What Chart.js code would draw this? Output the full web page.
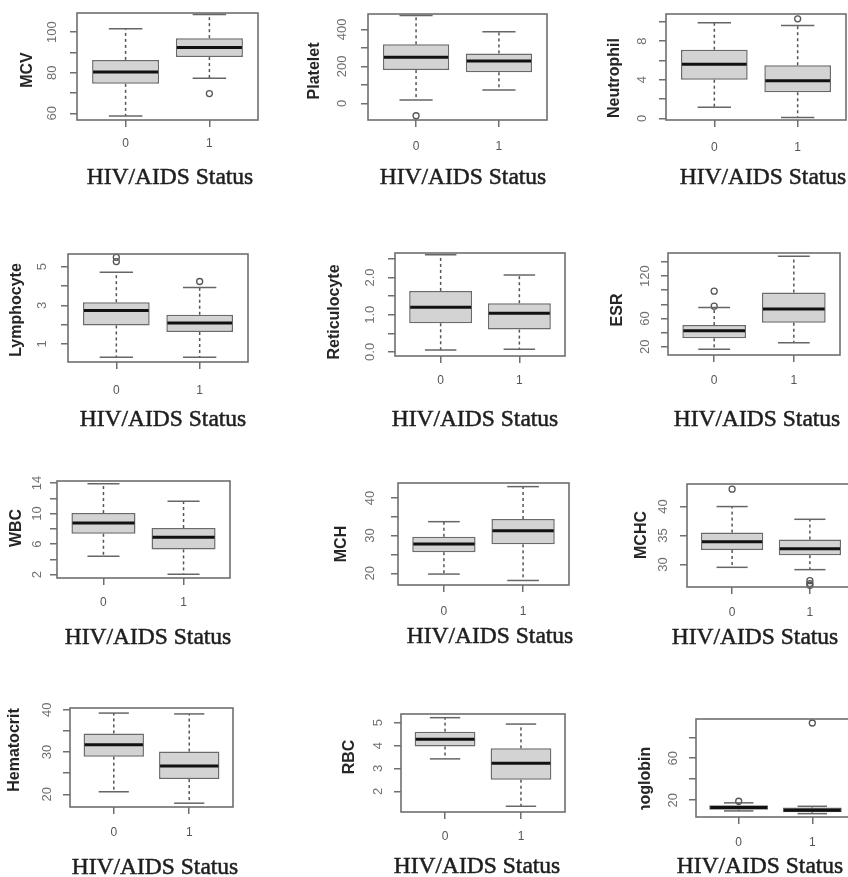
<!DOCTYPE html>
<html>
<head>
<meta charset="utf-8">
<script src="https://cdn.jsdelivr.net/npm/chart.js@4.4.1/dist/chart.umd.min.js"></script>
<style>
  html, body { margin: 0; padding: 0; background: #fff; }
  #page { position: relative; width: 848px; height: 877px; overflow: hidden; background: #fff; }
  #page canvas { position: absolute; }
</style>
</head>
<body>
<div id="page"></div>
<script>
// ---- data: haematology parameters by HIV/AIDS status (0 = negative, 1 = positive) ----
const groups = ['0', '1'];
const variables = ['MCV', 'Platelet', 'Neutrophil', 'Lymphocyte', 'Reticulocyte', 'ESR',
                   'WBC', 'MCH', 'MCHC', 'Hematocrit', 'RBC', 'Hemoglobin'];

// box-plot statistics, one [group 0, group 1] pair per variable
const whiskerLow  = [[58.7, 77.3], [18, 72], [1.15, 0.1], [0.31, 0.31], [0.05, 0.07], [16.2, 25.6],
                     [4.4, 2.04], [19.8, 18.1], [29.5, 29.1], [20.6, 17.9], [3.42, 1.35], [9.8, 7.2]];
const quartile1   = [[74.5, 87.7], [180, 168], [4.0, 2.7], [1.96, 1.62], [0.77, 0.60], [31.8, 53.9],
                     [7.35, 5.3], [25.6, 27.7], [32.5, 31.6], [28.9, 23.6], [3.96, 2.51], [11, 8.5]];
const medians     = [[80.4, 92.4], [249, 229], [5.6, 3.9], [2.73, 2.08], [1.20, 1.04], [42.6, 73.2],
                     [8.75, 6.9], [27.8, 31.3], [33.9, 32.7], [31.7, 26.7], [4.28, 3.23], [13, 10.4]];
const quartile3   = [[86.3, 97.0], [319, 270], [7.1, 5.5], [3.16, 2.51], [1.64, 1.31], [50.6, 96.7],
                     [10.06, 8.1], [29.7, 34.4], [35.5, 34.3], [34.4, 30.1], [4.61, 3.88], [15.2, 13]];
const whiskerHigh = [[101.6, 108.6], [475, 387], [9.9, 9.6], [4.71, 3.92], [2.61, 2.07], [75.5, 148],
                     [13.9, 11.6], [33.7, 43.0], [40, 37.8], [39.2, 39.0], [5.22, 4.94], [17.5, 14.2]];
const outliers    = [[[], [69.7]], [[-67], []], [[], [10.3]], [[5.48, 5.26], [4.23]], [[], []],
                     [[98.6, 77.4], []], [[], []], [[], []], [[43.0], [27.2, 26.7, 26.4]],
                     [[], []], [[], []], [[19], [93.6]]];

// y axis limits and ticks
const yMin = [56.7, -90, -0.17, 0.07, -0.11, 8.2, 1.56, 16.9, 26.1, 17.0, 1.10, 4];
const yMax = [109.4, 483, 10.8, 5.65, 2.66, 152.7, 14.26, 43.96, 43.9, 40.4, 5.38, 97.4];
const yTicks = [[60, 70, 80, 90, 100], [0, 100, 200, 300, 400], [0, 2, 4, 6, 8, 10], [1, 2, 3, 4, 5],
                [0, 0.5, 1, 1.5, 2, 2.5], [20, 40, 60, 80, 100, 120, 140], [2, 4, 6, 8, 10, 12, 14],
                [20, 25, 30, 35, 40], [30, 35, 40], [20, 25, 30, 35, 40], [2, 3, 4, 5], [20, 40, 60, 80]];
const yTickLabels = [['60', '', '80', '', '100'], ['0', '', '200', '', '400'], ['0', '', '4', '', '8', ''],
                     ['1', '', '3', '', '5'], ['0.0', '', '1.0', '', '2.0', ''],
                     ['20', '', '60', '', '', '120', ''], ['2', '', '6', '', '10', '', '14'],
                     ['20', '', '30', '', '40'], ['30', '35', '40'], ['20', '', '30', '', '40'],
                     ['2', '3', '4', '5'], ['20', '', '60', '']];
const xTitle = 'HIV/AIDS Status';

// ---- page layout (pixels) ----
const cellX = [0, 290, 580];
const cellY = [0, 230, 460, 690];
const cellW = 290;
const cellH = [230, 230, 230, 187];
// plot frame [left, right, top, bottom]
const frames = [[77, 258, 13, 120], [368, 547, 14, 120], [666, 846, 14, 120],
                [68, 248, 254, 362], [395, 565, 253, 356], [668, 840, 253, 355],
                [57, 230, 481, 578], [398, 569, 483, 585], [687, 855, 484, 587],
                [70, 233, 708, 807], [401, 565, 714, 812], [696, 855, 719, 817]];
const yTitleAt = [[28, 70], [315, 71], [615, 78], [17, 310], [335, 312], [618, 310],
                  [17, 528], [342, 544], [642, 535], [15, 750], [350, 757], [646, 793]];
const yTitleClipBottom = [null, null, null, null, null, null, null, null, null, null, null, 810];
const xTitleAt = [[170, 178], [463, 178], [763, 178], [163, 420], [475, 420], [757, 420],
                  [148, 638], [490, 637], [755, 638], [155, 868], [477, 867], [760, 867]];
const yTickLabelX = [52, 342, 642, 42, 370, 645, 37, 370, 663, 47, 378, 673];
const xTickLabelY = [144, 147, 148, 391, 381, 381, 603, 612, 613, 833, 837, 843];

const AXIS_GREY = '#6f6f6f';
const TICK_LEN = 7;
const Y_AXIS_W = 8;
const X_TICK_FONT = 12;

const boxPlotPlugin = {
  id: 'boxplot',
  afterDatasetsDraw(chart, args, opts) {
    const k = opts.panel;
    const ctx = chart.ctx;
    const ys = chart.scales.y;
    const bars = chart.getDatasetMeta(0).data;
    const line = (x1, y1, x2, y2) => { ctx.beginPath(); ctx.moveTo(x1, y1); ctx.lineTo(x2, y2); ctx.stroke(); };
    ctx.save();
    bars.forEach((bar, g) => {
      const cx = bar.x, w = bar.width;
      const pLo = ys.getPixelForValue(whiskerLow[k][g]);
      const pHi = ys.getPixelForValue(whiskerHigh[k][g]);
      const pQ1 = ys.getPixelForValue(quartile1[k][g]);
      const pQ3 = ys.getPixelForValue(quartile3[k][g]);
      const pMed = ys.getPixelForValue(medians[k][g]);
      // dashed whiskers
      ctx.strokeStyle = '#555';
      ctx.lineWidth = 1.5;
      ctx.setLineDash([3, 3]);
      line(cx, pQ3, cx, pHi);
      line(cx, pQ1, cx, pLo);
      ctx.setLineDash([]);
      // staples
      ctx.strokeStyle = '#666';
      line(cx - w / 4, pHi, cx + w / 4, pHi);
      line(cx - w / 4, pLo, cx + w / 4, pLo);
      // median
      ctx.strokeStyle = '#111';
      ctx.lineWidth = 3;
      line(cx - w / 2 + 1, pMed, cx + w / 2 - 1, pMed);
    });
    ctx.restore();
  },
  afterDraw(chart, args, opts) {
    const k = opts.panel;
    const ox = opts.ox, oy = opts.oy;
    const ctx = chart.ctx;
    const a = chart.chartArea;
    const ys = chart.scales.y;
    ctx.save();
    // frame
    ctx.strokeStyle = AXIS_GREY;
    ctx.lineWidth = 1.6;
    ctx.strokeRect(a.left, a.top, a.right - a.left, a.bottom - a.top);
    // rotated y tick labels
    ctx.fillStyle = '#707070';
    ctx.font = '13px "Liberation Sans", Arial, sans-serif';
    ctx.textAlign = 'center';
    ctx.textBaseline = 'middle';
    ys.ticks.forEach((t) => {
      const i = yTicks[k].indexOf(t.value);
      const label = i >= 0 ? yTickLabels[k][i] : '';
      if (!label) return;
      ctx.save();
      ctx.translate(yTickLabelX[k] - ox, ys.getPixelForValue(t.value));
      ctx.rotate(-Math.PI / 2);
      ctx.fillText(label, 0, 0);
      ctx.restore();
    });
    // y axis title
    ctx.save();
    if (yTitleClipBottom[k] !== null) {
      ctx.beginPath();
      ctx.rect(0, 0, chart.width, yTitleClipBottom[k] - oy);
      ctx.clip();
    }
    ctx.fillStyle = '#262626';
    ctx.font = 'bold 16px "Liberation Sans", Arial, sans-serif';
    ctx.translate(yTitleAt[k][0] - ox, yTitleAt[k][1] - oy);
    ctx.rotate(-Math.PI / 2);
    ctx.fillText(variables[k], 0, 0);
    ctx.restore();
    // x axis title
    ctx.fillStyle = '#1e1e1e';
    ctx.strokeStyle = '#1e1e1e';
    ctx.lineWidth = 0.5;
    ctx.font = '23.5px "Liberation Serif", "Times New Roman", serif';
    ctx.fillText(xTitle, xTitleAt[k][0] - ox, xTitleAt[k][1] - oy);
    ctx.strokeText(xTitle, xTitleAt[k][0] - ox, xTitleAt[k][1] - oy);
    ctx.restore();
  }
};

const page = document.getElementById('page');

variables.forEach((name, k) => {
  const row = Math.floor(k / 3), col = k % 3;
  const ox = cellX[col], oy = cellY[row], w = cellW, h = cellH[row];
  const [L, R, T, B] = frames[k];

  const canvas = document.createElement('canvas');
  canvas.width = w;
  canvas.height = h;
  canvas.style.left = ox + 'px';
  canvas.style.top = oy + 'px';
  canvas.style.width = w + 'px';
  canvas.style.height = h + 'px';
  page.appendChild(canvas);

  const xAxisH = oy + h - B;
  const xLabelPad = xTickLabelY[k] - B - TICK_LEN - (X_TICK_FONT * 1.2) / 2;

  const boxData = groups.map((g, i) => ({ x: i + 1, y: [quartile1[k][i], quartile3[k][i]] }));
  const outlierData = [];
  groups.forEach((g, i) => outliers[k][i].forEach((v) => outlierData.push({ x: i + 1, y: v })));

  new Chart(canvas, {
    type: 'bar',
    data: {
      datasets: [
        {
          type: 'bar',
          data: boxData,
          backgroundColor: '#d3d3d3',
          borderColor: '#6a6a6a',
          borderWidth: 1.5,
          borderSkipped: false,
          categoryPercentage: 1,
          barPercentage: 0.8
        },
        {
          type: 'scatter',
          data: outlierData,
          pointRadius: 3,
          pointBorderWidth: 1.3,
          pointBackgroundColor: 'rgba(0,0,0,0)',
          pointBorderColor: '#555',
          clip: false
        }
      ]
    },
    options: {
      responsive: false,
      animation: false,
      devicePixelRatio: 1,
      layout: { padding: { left: L - ox - Y_AXIS_W, right: ox + w - R, top: T - oy, bottom: 0 } },
      plugins: {
        legend: { display: false },
        tooltip: { enabled: false },
        boxplot: { panel: k, ox: ox, oy: oy }
      },
      scales: {
        x: {
          type: 'linear',
          position: 'bottom',
          min: 0.42,
          max: 2.58,
          offset: false,
          bounds: 'data',
          afterBuildTicks: (s) => { s.ticks = groups.map((g, i) => ({ value: i + 1 })); },
          afterFit: (s) => { s.height = xAxisH; },
          ticks: {
            callback: (v) => groups[v - 1],
            color: '#555',
            font: { family: '"Liberation Sans", Arial, sans-serif', size: X_TICK_FONT },
            padding: xLabelPad,
            maxRotation: 0,
            minRotation: 0
          },
          grid: { drawOnChartArea: false, drawTicks: true, tickLength: TICK_LEN, color: AXIS_GREY, lineWidth: 1.5, offset: false },
          border: { display: false }
        },
        y: {
          type: 'linear',
          position: 'left',
          min: yMin[k],
          max: yMax[k],
          bounds: 'data',
          afterBuildTicks: (s) => { s.ticks = yTicks[k].map((v) => ({ value: v })); },
          afterFit: (s) => { s.width = Y_AXIS_W; },
          ticks: { display: false },
          grid: { drawOnChartArea: false, drawTicks: true, tickLength: TICK_LEN, color: AXIS_GREY, lineWidth: 1.5 },
          border: { display: false }
        }
      }
    },
    plugins: [boxPlotPlugin]
  });
});
</script>
</body>
</html>
